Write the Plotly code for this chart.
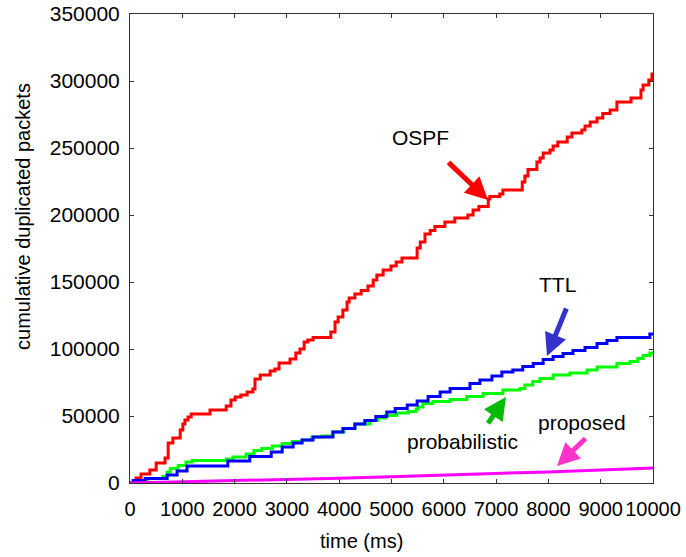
import plotly.graph_objects as go

# Cumulative duplicated packets over time for four flooding schemes
ospf_t = [0, 115, 210, 380, 500, 670, 730, 820, 960, 1010, 1050, 1110, 1170, 1530, 1840,
          1930, 2010, 2120, 2240, 2350, 2390, 2490, 2680, 2770, 2850, 3060, 3170, 3250,
          3330, 3400, 3500, 3840, 3920, 3980, 4070, 4150, 4190, 4300, 4420, 4550, 4650,
          4720, 4840, 4990, 5090, 5200, 5490, 5550, 5640, 5740, 5830, 6020, 6210, 6460,
          6560, 6670, 6850, 6880, 7070, 7130, 7500, 7550, 7610, 7780, 7840, 7900, 8030,
          8090, 8180, 8360, 8450, 8640, 8700, 8800, 8930, 9040, 9180, 9310, 9580, 9770,
          9810, 9920, 9980, 10000]
ospf_v = [0, 3700, 6700, 9700, 14900, 18700, 29900, 33600, 39600, 44000, 47000, 49300,
          51500, 54500, 57500, 61900, 64200, 65700, 67900, 70100, 77600, 80600, 83600,
          85100, 89600, 92500, 97000, 100000, 105200, 106700, 108600, 112700, 120200,
          123900, 129100, 135100, 138100, 141100, 143700, 147000, 151500, 155200, 159000,
          162000, 164900, 167900, 175400, 179900, 185800, 188400, 191400, 194800, 197800,
          200000, 203700, 206400, 212000, 213800, 215700, 218700, 224600, 229100, 234000,
          239600, 242600, 246300, 248500, 251500, 254500, 258200, 261200, 263400, 266400,
          269400, 272400, 275800, 278400, 284300, 287300, 293300, 297000, 300800, 305200,
          305200]

ttl_t = [0, 60, 290, 710, 900, 1090, 1870, 2290, 2700, 2910, 3120, 3290, 3500, 3880, 4070,
         4300, 4490, 4700, 4910, 5070, 5300, 5490, 5700, 5930, 6120, 6500, 6690, 6920,
         7110, 7320, 7510, 7710, 7900, 8090, 8280, 8470, 8700, 8930, 9120, 9310, 9940,
         10000]
ttl_v = [0, 1900, 3400, 6000, 9000, 12700, 16400, 19800, 23100, 26900, 29900, 32100,
         34300, 38100, 40700, 44000, 46600, 49600, 53000, 55600, 58200, 61200, 64600,
         67900, 70500, 74300, 76900, 79900, 82800, 84300, 86900, 89200, 92200, 94400,
         96700, 98900, 101100, 104100, 106400, 108600, 111200, 111200]

prob_t = [0, 150, 330, 630, 710, 770, 920, 1070, 1190, 1840, 1970, 2220, 2370, 2520, 2720,
          2910, 3100, 3290, 3480, 3670, 3880, 4090, 4300, 4590, 4740, 4880, 5100, 5320,
          5470, 5510, 5600, 5790, 6120, 6440, 6750, 7130, 7460, 7550, 7700, 7840, 8090,
          8410, 8740, 8930, 9310, 9560, 9710, 9810, 9940, 10000]
prob_v = [0, 1900, 3400, 4900, 8200, 10800, 13100, 15700, 16800, 17900, 19400, 21600,
          24300, 25800, 27600, 29500, 31000, 32100, 34300, 35100, 38100, 40700, 44000,
          46600, 48500, 50400, 52200, 53400, 55200, 56700, 59300, 60800, 62300, 64600,
          66800, 69400, 70500, 73100, 75800, 78000, 80600, 82100, 84300, 86600, 89200,
          90700, 92900, 95200, 97000, 97000]

prop_t = [0, 1000, 2000, 3000, 4000, 5000, 6000, 7000, 8000, 9000, 10000]
prop_v = [0, 800, 1700, 2600, 3600, 4700, 5800, 7000, 8300, 9700, 11200]

x_ticks = list(range(0, 10001, 1000))
y_ticks = list(range(0, 350001, 50000))

FONT = "Arial, Liberation Sans, sans-serif"

fig = go.Figure()
fig.add_trace(go.Scatter(x=ospf_t, y=ospf_v, mode="lines", line=dict(color="#ff0000", width=3, shape="hv"), name="OSPF"))
fig.add_trace(go.Scatter(x=prob_t, y=prob_v, mode="lines", line=dict(color="#00ff00", width=3, shape="hv"), name="probabilistic"))
fig.add_trace(go.Scatter(x=ttl_t, y=ttl_v, mode="lines", line=dict(color="#0000ff", width=3, shape="hv"), name="TTL"))
fig.add_trace(go.Scatter(x=prop_t, y=prop_v, mode="lines", line=dict(color="#ff00ff", width=3), name="proposed"))

axis_common = dict(
    showgrid=False, zeroline=False, showline=True, linecolor="#333333", linewidth=1,
    mirror="ticks", ticks="inside", ticklen=4, tickcolor="#333333", automargin=False,
)
fig.update_xaxes(range=[0, 10000], tickvals=x_ticks, ticktext=[str(v) for v in x_ticks],
                 tickfont=dict(family=FONT, size=20, color="black"), ticklabelstandoff=8,
                 **axis_common)
fig.update_yaxes(range=[0, 350000], tickvals=y_ticks, ticktext=[str(v) for v in y_ticks],
                 tickfont=dict(family=FONT, size=21, color="black"), ticklabelstandoff=5,
                 **axis_common)

annotations = [
    # axis titles
    dict(text="time (ms)", xref="paper", yref="paper", x=0.4417, y=-0.124, showarrow=False,
         xanchor="center", yanchor="middle", font=dict(family=FONT, size=20, color="black")),
    dict(text="cumulative duplicated packets", xref="paper", yref="paper", x=-0.205, y=0.569,
         showarrow=False, textangle=-90, xanchor="center", yanchor="middle",
         font=dict(family=FONT, size=20, color="black")),
    # series labels
    dict(text="OSPF", x=5545, y=257500, showarrow=False, font=dict(family=FONT, size=21, color="black")),
    dict(text="TTL", x=8183, y=147800, showarrow=False, font=dict(family=FONT, size=21, color="black")),
    dict(text="probabilistic", x=6367, y=31300, showarrow=False, font=dict(family=FONT, size=21, color="black")),
    dict(text="proposed", x=8642, y=45500, showarrow=False, font=dict(family=FONT, size=21, color="black")),
    # pointer arrows
    dict(text="", x=6845, y=211200, ax=-41, ay=-39, showarrow=True, arrowhead=2, arrowsize=0.9,
         arrowwidth=5, arrowcolor="#ff0000"),
    dict(text="", x=7973, y=94800, ax=20, ay=-49, showarrow=True, arrowhead=2, arrowsize=0.9,
         arrowwidth=5, arrowcolor="#3333cc"),
    dict(text="", x=7189, y=64200, ax=-19, ay=28, showarrow=True, arrowhead=2, arrowsize=0.9,
         arrowwidth=5, arrowcolor="#00bb00"),
    dict(text="", x=8164, y=12700, ax=30, ay=-29, showarrow=True, arrowhead=2, arrowsize=0.9,
         arrowwidth=5, arrowcolor="#ff33cc"),
]

fig.update_layout(
    width=686, height=557,
    margin=dict(l=130, r=33, t=14, b=74),
    paper_bgcolor="white", plot_bgcolor="white",
    showlegend=False,
    annotations=annotations,
    font=dict(family=FONT, color="black"),
)

fig.write_html("out.html")
